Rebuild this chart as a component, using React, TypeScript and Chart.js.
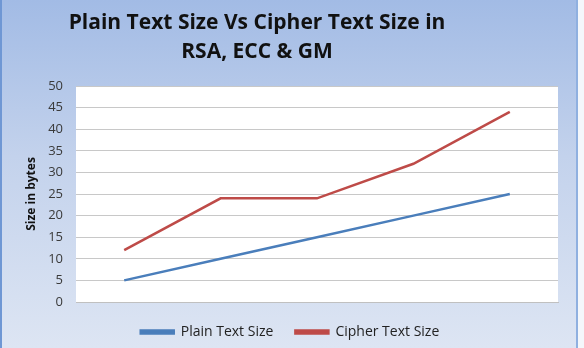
import React, { useEffect, useRef } from "react";
import { Chart, registerables } from "chart.js";

Chart.register(...registerables);

const categories = ["1", "2", "3", "4", "5"];
const plainTextSize = [5, 10, 15, 20, 25];
const cipherTextSize = [12, 24, 24, 32, 44];
const titleLines = ["Plain Text Size Vs Cipher Text Size in", "RSA, ECC & GM"];
const yAxisTitle = "Size in bytes";

const plotBg = {
  id: "plotBg",
  beforeDraw(chart: any) {
    const { ctx, chartArea } = chart;
    ctx.save();
    ctx.fillStyle = "#ffffff";
    ctx.fillRect(chartArea.left, chartArea.top, chartArea.right - chartArea.left, chartArea.bottom - chartArea.top);
    ctx.restore();
  },
};

const chartTitle = {
  id: "chartTitle",
  afterDraw(chart: any) {
    const { ctx } = chart;
    ctx.save();
    ctx.fillStyle = "#111111";
    ctx.font = "bold 21px 'Open Sans'";
    ctx.textAlign = "center";
    ctx.textBaseline = "alphabetic";
    titleLines.forEach((line, i) => {
      ctx.fillText(line, 255, 29 + i * 29);
    });
    ctx.restore();
  },
};

const legendShift = {
  id: "legendShift",
  afterLayout(chart: any) {
    if (chart.legend) {
      chart.legend.top -= 7;
      chart.legend.bottom -= 7;
      chart.legend.left += 10;
      chart.legend.right += 10;
    }
  },
};

export default function App() {
  const ref = useRef<HTMLCanvasElement | null>(null);
  useEffect(() => {
    document.body.style.margin = "0";
    const chart = new Chart(ref.current!, {
      type: "line",
      data: {
        labels: categories,
        datasets: [
          {
            label: "Plain Text Size",
            data: plainTextSize,
            borderColor: "#4a7ebb",
            backgroundColor: "#4a7ebb",
            borderWidth: 2.5,
            pointRadius: 0,
            tension: 0,
          },
          {
            label: "Cipher Text Size",
            data: cipherTextSize,
            borderColor: "#be4b48",
            backgroundColor: "#be4b48",
            borderWidth: 2.5,
            pointRadius: 0,
            tension: 0,
          },
        ],
      },
      plugins: [plotBg, chartTitle, legendShift],
      options: {
        animation: false,
        responsive: false,
        maintainAspectRatio: false,
        layout: { padding: { left: 0, right: 18, top: 86, bottom: -8 } },
        plugins: {
          title: { display: false },
          legend: {
            position: "bottom",
            labels: {
              color: "#222222",
              font: { family: "Open Sans", size: 14 },
              boxWidth: 33,
              boxHeight: 3,
              padding: 22,
              useBorderRadius: false,
            },
          },
          tooltip: { enabled: false },
        },
        scales: {
          x: {
            offset: true,
            grid: { display: false },
            border: { display: true, color: "#c0c0c0" },
            ticks: { display: false },
          },
          y: {
            min: 0,
            max: 50,
            afterFit(scale: any) {
              scale.width = 74;
            },
            ticks: {
              stepSize: 5,
              color: "#3a3a3a",
              font: { family: "Open Sans", size: 13 },
              padding: 13,
            },
            grid: { color: "#c8c8c8", drawTicks: false },
            border: { display: false },
            title: {
              display: true,
              text: yAxisTitle,
              color: "#111111",
              font: { family: "Open Sans", size: 12, weight: "bold" },
              padding: { top: 22, bottom: 0 },
            },
          },
        },
      },
    });
    return () => chart.destroy();
  }, []);
  return (
    <div
      style={{
        position: "absolute",
        left: 0,
        top: 0,
        width: 584,
        height: 348,
        background: "#f4f7fb",
      }}
    >
      <div
        style={{
          position: "absolute",
          left: 0,
          top: 0,
          width: 574,
          height: 348,
          borderLeft: "2px solid #6f97d4",
          borderRight: "2px solid #8fb0e0",
          background: "linear-gradient(to bottom, #a2bbe5 0%, #c3d2ec 45%, #dde5f3 100%)",
        }}
      >
        <canvas ref={ref} width={574} height={348} style={{ display: "block" }} />
      </div>
    </div>
  );
}
